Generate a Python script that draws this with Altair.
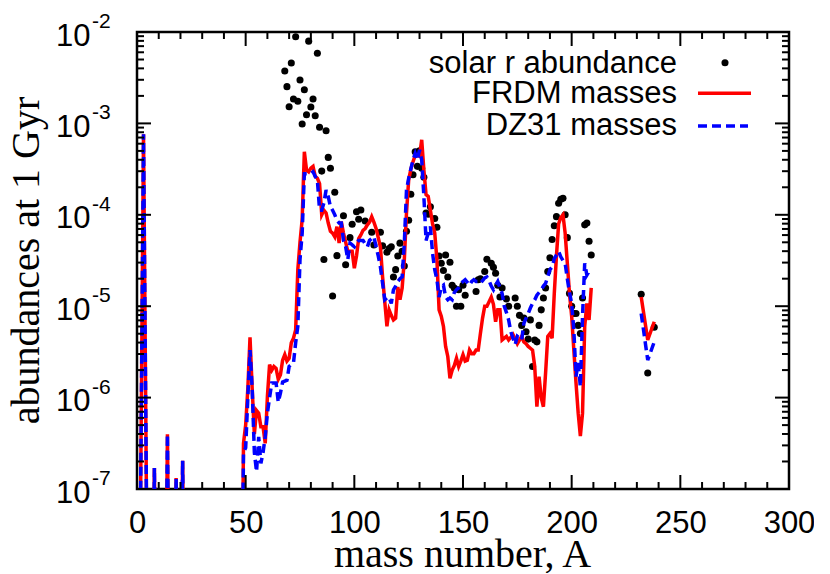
import altair as alt
import pandas as pd

# ---------------- data (log10 of abundance; -9 means "below the plotted range") ----------------
solar_A = [68, 69, 70, 71, 72, 73, 74, 75, 76, 77, 78, 79, 80, 81, 82, 83, 84, 85, 86, 87, 88, 89, 90,
           91, 92, 95, 96, 98, 99, 101, 102, 103, 105, 108, 109, 112, 113, 115, 116, 117, 118, 119,
           120, 121, 122, 123, 124, 125, 126, 127, 128, 129, 130, 131, 132, 133, 134, 135, 137, 138,
           139, 140, 141, 142, 143, 144, 145, 146, 147, 148, 149, 150, 151, 156, 157, 158, 160, 161,
           163, 164, 165, 166, 167, 168, 170, 171, 174, 175, 176, 177, 178, 179, 180, 181, 182, 183,
           184, 185, 186, 187, 188, 189, 190, 191, 192, 193, 194, 195, 196, 197, 198, 199, 200, 201,
           202, 203, 204, 205, 206, 207, 208, 209, 232, 235, 238]
solar_log = [-2.427, -2.598, -2.817, -2.339, -2.733, -2.051, -2.758, -2.525, -3.007, -2.632, -2.905,
             -2.100, -2.821, -2.733, -2.916, -2.233, -3.043, -3.522, -4.490, -3.080, -3.372, -3.490,
             -4.888, -3.754, -4.447, -4.010, -4.546, -4.250, -4.104, -3.966, -4.049, -3.948, -4.068,
             -4.190, -4.330, -4.190, -4.340, -4.410, -4.370, -4.350, -4.680, -4.600, -4.450, -4.310,
             -4.400, -4.560, -4.180, -4.060, -3.776, -3.561, -3.310, -3.470, -3.300, -3.490, -3.590,
             -3.980, -3.994, -3.911, -4.040, -4.137, -4.450, -4.530, -4.610, -4.440, -4.680, -4.520,
             -4.770, -4.800, -5.000, -4.820, -5.000, -4.770, -4.880, -4.840, -4.710, -4.700, -4.620,
             -4.487, -4.530, -4.575, -4.640, -4.770, -4.900, -4.800, -4.920, -5.000, -4.910, -5.000,
             -5.100, -5.210, -5.130, -5.280, -5.360, -5.150, -5.660, -5.370, -5.390, -5.210, -5.040,
             -4.910, -4.800, -4.620, -4.470, -4.270, -4.120, -4.020, -3.874, -3.830, -3.820, -4.000,
             -4.250, -4.860, -5.000, -5.080, -5.080, -5.210, -5.300, -4.910, -4.110, -4.090, -4.290,
             -4.440, -4.870, -5.730, -5.230]

frdm_A = [1, 3, 5, 7, 8, 9, 13, 14, 15, 17, 18, 19, 20, 21, 22, 48, 49, 50, 51, 52, 53, 54, 55, 56,
          57, 58, 59, 60, 61, 62, 63, 64, 65, 66, 67, 68, 69, 70, 71, 72, 73, 74, 75, 76, 77, 78, 79,
          80, 81, 82, 83, 84, 85, 86, 87, 88, 89, 90, 91, 92, 93, 94, 95, 96, 97, 98, 99, 100, 101,
          102, 103, 104, 105, 106, 107, 108, 109, 110, 111, 112, 113, 114, 115, 116, 117, 118, 119,
          120, 121, 122, 123, 124, 125, 126, 127, 128, 129, 130, 131, 132, 133, 134, 135, 136, 137,
          138, 139, 140, 141, 142, 143, 144, 145, 146, 147, 148, 149, 150, 151, 152, 153, 154, 155,
          156, 157, 158, 159, 160, 161, 162, 163, 164, 165, 166, 167, 168, 169, 170, 171, 172, 173,
          174, 175, 176, 177, 178, 179, 180, 181, 182, 183, 184, 185, 186, 187, 188, 189, 190, 191,
          192, 193, 194, 195, 196, 197, 198, 199, 200, 201, 202, 203, 204, 205, 206, 207, 208, 209,
          232, 235, 238]
frdm_log = [-9, -3.12, -9, -9, -6.77, -9, -9, -6.40, -9, -9, -6.88, -9, -9, -6.69, -9, -9, -6.5,
            -6.3, -5.9, -5.34, -5.9, -6.4, -6.14, -6.17, -6.32, -6.32, -6.5, -5.99, -5.64, -5.70,
            -5.66, -5.68, -5.80, -5.75, -5.59, -5.53, -5.60, -5.57, -5.40, -5.35, -5.26, -4.6, -4.3,
            -4.05, -3.31, -3.51, -3.53, -3.49, -3.47, -3.58, -3.60, -3.66, -4.0, -3.95, -3.98, -4.09,
            -4.18, -4.20, -4.24, -4.13, -4.31, -4.075, -4.20, -4.30, -4.40, -4.40, -4.40, -4.585,
            -4.45, -4.26, -4.22, -4.17, -4.15, -4.11, -4.08, -4.02, -4.08, -4.15, -4.25, -4.35,
            -4.68, -4.95, -5.22, -5.04, -5.10, -5.15, -5.13, -4.79, -4.93, -4.80, -4.49, -3.98,
            -3.62, -3.50, -3.42, -3.35, -3.35, -3.36, -3.18, -3.51, -3.78, -3.80, -3.95, -4.10,
            -4.20, -4.49, -5.04, -5.11, -5.22, -5.44, -5.55, -5.79, -5.70, -5.65, -5.57, -5.66,
            -5.60, -5.53, -5.60, -5.59, -5.48, -5.52, -5.52, -5.48, -5.48, -5.30, -5.13, -5.0, -5.0,
            -4.95, -4.90, -4.98, -5.17, -5.04, -5.04, -5.37, -5.35, -5.33, -5.37, -5.34, -5.31,
            -5.36, -5.41, -5.37, -5.33, -5.39, -5.41, -5.44, -5.46, -5.48, -5.66, -6.10, -5.77,
            -6.0, -6.10, -5.73, -5.33, -5.30, -5.35, -4.86, -4.45, -4.10, -4.03, -4.0, -4.20, -4.53,
            -4.86, -5.11, -5.48, -5.84, -6.17, -6.42, -6.17, -5.22, -4.97, -5.15, -4.80,
            -4.90, -5.37, -5.17]

dz31_A = frdm_A[:-3] + [232, 235, 238]
dz31_log = [-9, -3.12, -9, -9, -6.77, -9, -9, -6.40, -9, -9, -6.88, -9, -9, -6.69, -9, -9, -6.6,
            -6.55, -6.0, -5.48, -5.9, -6.6, -6.81, -6.43, -6.72, -6.6, -6.43, -6.17, -6.0, -5.84,
            -5.84, -5.84, -6.05, -5.95, -5.83, -5.82, -5.81, -5.66, -5.64, -5.62, -5.40, -5.22,
            -4.49, -4.20, -3.55, -3.55, -3.55, -3.55, -3.53, -3.58, -3.62, -3.95, -3.95, -3.87,
            -3.73, -3.80, -3.91, -3.95, -4.0, -4.06, -4.09, -4.09, -4.28, -4.35, -4.49, -4.31,
            -4.33, -4.35, -4.30, -4.28, -4.28, -4.28, -4.32, -4.35, -4.28, -4.26, -4.24, -4.35,
            -4.45, -4.57, -4.75, -4.93, -4.91, -4.90, -4.97, -4.82, -4.78, -4.73, -4.70, -4.68,
            -4.31, -3.73, -3.60, -3.50, -3.40, -3.33, -3.40, -3.29, -3.40, -3.80, -4.28, -4.20,
            -4.13, -4.42, -4.60, -4.71, -4.90, -4.79, -4.77, -4.90, -4.93, -4.91, -4.93, -4.85,
            -4.82, -4.80, -4.75, -4.73, -4.71, -4.74, -4.77, -4.73, -4.71, -4.73, -4.73, -4.75,
            -4.72, -4.69, -4.68, -4.72, -4.78, -4.82, -4.77, -4.73, -4.80, -4.86, -5.0, -5.07,
            -5.15, -5.28, -5.35, -5.42, -5.33, -5.35, -5.37, -5.19, -5.13, -5.08, -5.02, -4.97,
            -4.93, -4.88, -4.85, -4.82, -4.78, -4.75, -4.68, -4.60, -4.57, -4.48, -4.44, -4.40,
            -4.46, -4.50, -4.53, -4.70, -4.85, -4.97, -5.26, -5.77, -5.62, -5.88, -5.11, -4.53,
            -4.66, -4.62, -4.62,
            -5.08, -5.59, -5.39]

x_major = [0, 50, 100, 150, 200, 250, 300]
x_minor = [v for v in range(0, 301, 10) if v % 50]
y_major = [1e-7, 1e-6, 1e-5, 1e-4, 1e-3, 1e-2]
y_exp = ["-7", "-6", "-5", "-4", "-3", "-2"]
y_minor = [k * 10.0 ** e for e in range(-7, -2) for k in range(2, 10)]

legend_labels = ["solar r abundance", "FRDM masses", "DZ31 masses"]

# ---------------- tables ----------------
solar = pd.DataFrame({"A": solar_A, "val": [10.0 ** v for v in solar_log]})
frdm = pd.DataFrame({"A": frdm_A, "val": [10.0 ** v for v in frdm_log]})
frdm["seg"] = [1 if a < 220 else 2 for a in frdm["A"]]
n = min(len(dz31_A), len(dz31_log))
dz = pd.DataFrame({"A": dz31_A[:n], "val": [10.0 ** v for v in dz31_log[:n]]})
dz["seg"] = [1 if a < 220 else 2 for a in dz["A"]]

W, H = 652, 457
SANS = "Liberation Sans"
SERIF = "Liberation Serif"

xscale = alt.Scale(domain=[0, 300], nice=False, zero=False)
yscale = alt.Scale(type="log", domain=[1e-7, 1e-2], nice=False)

xaxis = alt.Axis(values=x_major, ticks=False, tickSize=0, domain=False, grid=False,
                 labelFont=SANS, labelFontSize=31, labelColor="black", labelPadding=43,
                 labelBaseline="alphabetic", labelFlush=False, labelOverlap=False,
                 title="mass number, A", titleFont=SERIF, titleFontSize=40,
                 titleFontWeight="normal", titleColor="black", titleX=325, titleY=77,
                 titleAlign="center", titleBaseline="alphabetic")
yaxis = alt.Axis(values=y_major, labelExpr="'10'", ticks=False, tickSize=0, domain=False,
                 grid=False, labelFont=SANS, labelFontSize=31, labelColor="black",
                 labelAlign="right", labelBaseline="alphabetic", labelPadding=47,
                 labelOffset=13, labelFlush=False, labelOverlap=False,
                 title="abundances at 1 Gyr", titleFont=SERIF, titleFontSize=40,
                 titleFontWeight="normal", titleColor="black", titleX=-99, titleY=228,
                 titleAngle=270, titleAlign="center", titleBaseline="alphabetic")

X = alt.X("A:Q", scale=xscale, axis=xaxis)
Y = alt.Y("val:Q", scale=yscale, axis=yaxis)

dots = alt.Chart(solar).mark_circle(size=50, color="black", opacity=1, clip=True).encode(x=X, y=Y)
red = alt.Chart(frdm).mark_line(color="#ff0000", strokeWidth=3.5, clip=True).encode(
    x=X, y=Y, detail="seg:N")
blue = alt.Chart(dz).mark_line(color="#0000ff", strokeWidth=3.5, strokeDash=[9, 5], clip=True).encode(
    x=X, y=Y, detail="seg:N")

# inward ticks on all four sides
def xticks(vals, length):
    df = pd.DataFrame({"A": vals})
    bottom = alt.Chart(df).mark_rule(color="black", strokeWidth=2).encode(
        x=X, y=alt.value(H), y2=alt.value(H - length))
    top = alt.Chart(df).mark_rule(color="black", strokeWidth=2).encode(
        x=X, y=alt.value(0), y2=alt.value(length))
    return [bottom, top]

def yticks(vals, length):
    df = pd.DataFrame({"val": vals})
    left = alt.Chart(df).mark_rule(color="black", strokeWidth=2).encode(
        y=Y, x=alt.value(0), x2=alt.value(length))
    right = alt.Chart(df).mark_rule(color="black", strokeWidth=2).encode(
        y=Y, x=alt.value(W), x2=alt.value(W - length))
    return [left, right]

ticks = xticks(x_major, 14) + xticks(x_minor, 7) + yticks(y_major, 14) + yticks(y_minor, 7)

exps = alt.Chart(pd.DataFrame({"val": y_major, "exp": y_exp})).mark_text(
    align="left", baseline="alphabetic", font=SANS, fontSize=21, dy=-4, color="black").encode(
    x=alt.value(-45), y=Y, text="exp:N")

# legend (top right, labels to the left of their keys)
one = pd.DataFrame({"k": [0]})
leg = []
for lab, ypos in zip(legend_labels, [40.7, 71.3, 103]):
    leg.append(alt.Chart(one).mark_text(text=lab, align="right", baseline="alphabetic",
                                        font=SANS, fontSize=31, color="black").encode(
        x=alt.value(540), y=alt.value(ypos)))
leg.append(alt.Chart(one).mark_circle(size=50, color="black", opacity=1).encode(
    x=alt.value(588), y=alt.value(30.7)))
leg.append(alt.Chart(one).mark_rule(color="#ff0000", strokeWidth=3.5).encode(
    x=alt.value(561), x2=alt.value(614), y=alt.value(61.3)))
leg.append(alt.Chart(one).mark_rule(color="#0000ff", strokeWidth=3.5, strokeDash=[9, 5]).encode(
    x=alt.value(561), x2=alt.value(611), y=alt.value(94)))

chart = alt.layer(dots, red, blue, *ticks, exps, *leg).properties(
    width=W, height=H,
    autosize=alt.AutoSizeParams(type="none"),
    padding={"left": 129, "top": 24, "right": 25, "bottom": 84},
    background="white",
).configure_view(stroke="black", strokeWidth=2.5)

chart.save("out.html", embed_options={"renderer": "svg", "actions": False})
